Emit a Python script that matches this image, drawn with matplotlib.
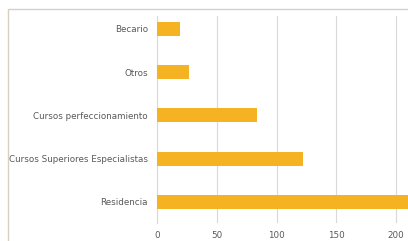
import matplotlib.pyplot as plt
from matplotlib.patches import Rectangle

categorias = ["Residencia", "Cursos Superiores Especialistas", "Cursos perfeccionamiento", "Otros", "Becario"]
valores = [235, 122, 84, 27, 19]
ticks_x = [0, 50, 100, 150, 200]

W, H = 408, 241
fig = plt.figure(figsize=(W / 100, H / 100), dpi=100)

# marco del grafico (recortado a la derecha y abajo)
fig.patches.append(Rectangle((8 / W, -0.1), 1.2, 1.1 - 9 / H, transform=fig.transFigure,
                             fill=False, edgecolor="#d8cfc2", linewidth=1.0))

left, right = 157 / W, 1.0
top, bottom = 1 - 16 / H, 1 - 223 / H
ax = fig.add_axes([left, bottom, right - left, top - bottom])

ax.barh(range(len(categorias)), valores, height=0.32, color="#f5b324", zorder=3)
ax.set_yticks(range(len(categorias)))
ax.set_yticklabels(categorias)
ax.set_xticks(ticks_x)
ax.set_xlim(0, (W - 157) / 1.195)
ax.set_ylim(-0.485, 4.293)

ax.grid(axis="x", color="#d9d9d9", linewidth=0.8, zorder=0)
for s in ["top", "right", "bottom"]:
    ax.spines[s].set_visible(False)
ax.spines["left"].set_color("#d9d9d9")
ax.spines["left"].set_linewidth(0.8)
ax.tick_params(axis="both", length=0, labelsize=6.3, labelcolor="#595959")
ax.tick_params(axis="y", pad=6.5)
ax.tick_params(axis="x", pad=5.5)

plt.savefig("out.png", dpi=100)
